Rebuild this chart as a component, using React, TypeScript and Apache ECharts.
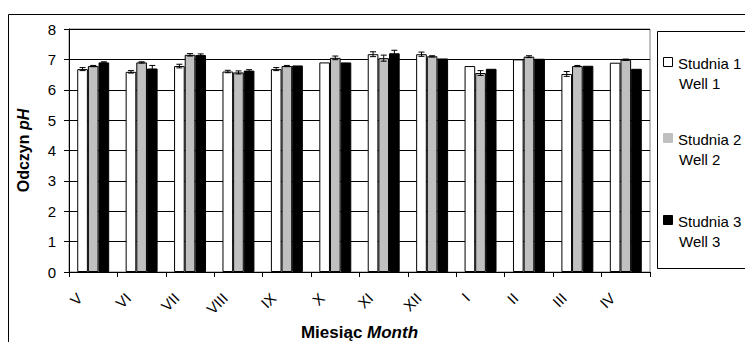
import React, { useEffect, useRef } from "react";
import * as echarts from "echarts";

const months = ["V", "VI", "VII", "VIII", "IX", "X", "XI", "XII", "I", "II", "III", "IV"];
const well1 = [6.68, 6.59, 6.78, 6.6, 6.68, 6.9, 7.17, 7.17, 6.78, 7.0, 6.52, 6.89];
const well2 = [6.78, 6.9, 7.15, 6.57, 6.78, 7.05, 7.04, 7.1, 6.55, 7.09, 6.78, 6.99];
const well3 = [6.9, 6.7, 7.14, 6.63, 6.8, 6.9, 7.2, 7.03, 6.69, 7.02, 6.79, 6.69];
const err1 = [0.05, 0.04, 0.06, 0.04, 0.05, 0, 0.08, 0.07, 0, 0, 0.08, 0];
const err2 = [0.02, 0.02, 0.04, 0.05, 0.02, 0.06, 0.1, 0.02, 0.08, 0.03, 0.02, 0.02];
const err3 = [0.02, 0.1, 0.04, 0.03, 0, 0, 0.1, 0, 0, 0, 0, 0];
const seriesNames = ["Studnia 1", "Studnia 2", "Studnia 3"];
const seriesNamesEn = ["Well 1", "Well 2", "Well 3"];
const seriesColors = ["#FFFFFF", "#C0C0C0", "#000000"];

const FONT = "'Liberation Sans', Arial, sans-serif";
const CAT_GAP = 0.34;

export default function App() {
  const ref = useRef<HTMLDivElement>(null);
  useEffect(() => {
    if (!ref.current) return;
    const chart = echarts.init(ref.current, null, { renderer: "svg" });
    const values = [well1, well2, well3];
    const errs = [err1, err2, err3];

    const barSeries = values.map((vals, k) => ({
      type: "bar",
      name: seriesNames[k],
      data: vals,
      barGap: "0%",
      barCategoryGap: CAT_GAP * 100 + "%",
      itemStyle: { color: seriesColors[k], borderColor: "#000", borderWidth: 1 },
      silent: true,
    }));

    const errSeries = errs.map((e, k) => ({
      type: "custom",
      name: "err" + k,
      data: e.map((ev, i) => [i, values[k][i], ev]),
      z: 10,
      silent: true,
      renderItem: (params: any, api: any) => {
        const idx = api.value(0);
        const v = api.value(1);
        const ev = api.value(2);
        if (!ev) return null;
        const cw = api.size([1, 0])[0];
        const bw = (cw * (1 - CAT_GAP)) / 3;
        const c = api.coord([idx, v]);
        const x = c[0] + (k - 1) * bw;
        const yt = api.coord([idx, v + ev])[1];
        const yb = api.coord([idx, v - ev])[1];
        const cap = 3;
        const st = { stroke: "#000", lineWidth: 1 };
        return {
          type: "group",
          children: [
            { type: "line", shape: { x1: x, y1: yt, x2: x, y2: yb }, style: st },
            { type: "line", shape: { x1: x - cap, y1: yt, x2: x + cap, y2: yt }, style: st },
            { type: "line", shape: { x1: x - cap, y1: yb, x2: x + cap, y2: yb }, style: st },
          ],
        };
      },
    }));

    const legendItems: any[] = [];
    const legendTops = [62, 138, 220];
    seriesNames.forEach((n, k) => {
      const y = legendTops[k];
      legendItems.push({
        type: "rect",
        shape: { x: 663.5, y: y - 4.5, width: 9, height: 9 },
        style: { fill: seriesColors[k], stroke: k === 1 ? "#C0C0C0" : "#000", lineWidth: 1 },
      });
      legendItems.push({
        type: "text",
        x: 678,
        y: y + 1,
        style: {
          text: n,
          font: `15px ${FONT}`,
          fill: "#000",
          verticalAlign: "middle",
          align: "left",
        },
      });
      legendItems.push({
        type: "text",
        x: 679,
        y: y + 21,
        style: {
          text: seriesNamesEn[k],
          font: `15px ${FONT}`,
          fill: "#000",
          verticalAlign: "middle",
          align: "left",
        },
      });
    });

    chart.setOption({
      animation: false,
      textStyle: { fontFamily: FONT },
      grid: {
        left: 69,
        top: 29,
        right: 95,
        bottom: 70,
        outerBoundsMode: "none",
        containLabel: false,
        show: true,
        borderColor: "#808080",
        borderWidth: 1,
        backgroundColor: "transparent",
      },
      xAxis: {
        type: "category",
        data: months,
        name: "{b|Miesiąc }{i|Month}",
        nameLocation: "middle",
        nameGap: 52,
        nameTextStyle: {
          rich: {
            b: { fontWeight: "bold", fontSize: 17, fontFamily: FONT, color: "#000" },
            i: { fontWeight: "bold", fontStyle: "italic", fontSize: 17, fontFamily: FONT, color: "#000" },
          },
        },
        axisLine: { lineStyle: { color: "#000", width: 1 } },
        axisTick: { show: true, alignWithLabel: false, length: 5, lineStyle: { color: "#000" } },
        axisLabel: {
          rotate: 45,
          fontSize: 15,
          color: "#000",
          fontFamily: FONT,
          margin: 10,
          padding: [0, 19, 0, 0],
          interval: 0,
        },
        splitLine: { show: false },
      },
      yAxis: {
        type: "value",
        min: 0,
        max: 8,
        interval: 1,
        name: "{b|Odczyn }{i|pH}",
        nameLocation: "middle",
        nameGap: 38,
        nameRotate: 90,
        nameTextStyle: {
          rich: {
            b: { fontWeight: "bold", fontSize: 16, fontFamily: FONT, color: "#000" },
            i: { fontWeight: "bold", fontStyle: "italic", fontSize: 16, fontFamily: FONT, color: "#000" },
          },
        },
        axisLine: { show: true, lineStyle: { color: "#000", width: 1 } },
        axisTick: { show: true, length: 5, lineStyle: { color: "#000" } },
        axisLabel: { fontSize: 15, color: "#000", fontFamily: FONT, margin: 13 },
        splitLine: { show: true, lineStyle: { color: "#000", width: 1 } },
      },
      series: [...barSeries, ...errSeries],
      graphic: [
        {
          type: "rect",
          shape: { x: 8.5, y: 14.5, width: 800, height: 400 },
          style: { fill: "none", stroke: "#000", lineWidth: 1 },
          silent: true,
          z: -10,
        },
        {
          type: "rect",
          shape: { x: 657.5, y: 31.5, width: 150, height: 237 },
          style: { fill: "#fff", stroke: "#000", lineWidth: 1 },
          silent: true,
        },
        ...legendItems,
      ],
    });
    return () => chart.dispose();
  }, []);
  return (
    <div
      ref={ref}
      style={{ position: "fixed", left: 0, top: 0, width: 745, height: 342, background: "#fff" }}
    />
  );
}
